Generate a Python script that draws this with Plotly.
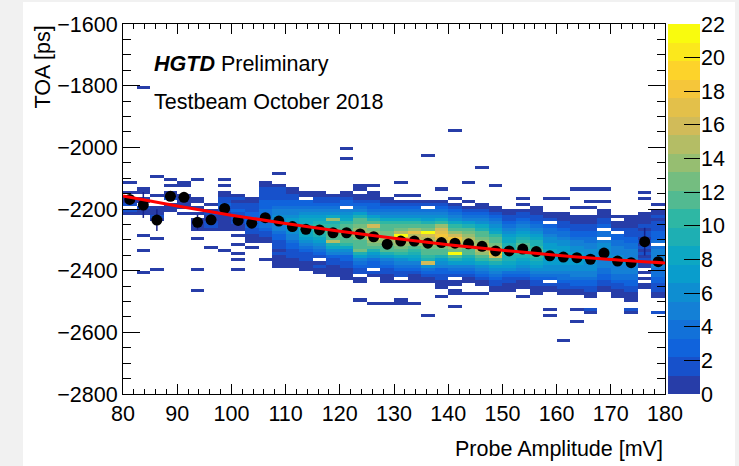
import numpy as np
import plotly.graph_objects as go

FONT = "Liberation Sans, Arial, sans-serif"

# Histogram binning: probe amplitude (mV) and time of arrival (ps)
AMP_LO, AMP_HI, AMP_STEP = 80.0, 180.0, 2.5
TOA_LO, TOA_HI, TOA_STEP = -2800.0, -1600.0, 10.0

# Entries per amplitude bin. One character per 10 ps TOA bin, the first one
# being bin 48 counted downwards from -1600 ps (i.e. -2080..-2090 ps).
# Digits 0-9, then a=10 ... m=22. Spaces are only for readability.
COUNT_START = 48
COUNTS = [
    "00010 01011 20210",
    "00000 11011 02110 00000 10000 10000 00100",
    "01000 00100 01112 10000 01000 00000 01000",
    "00101 01120 11100",
    "00011 00111 11010",
    "00100 00011 01010 11110 01000 00000 01000 00010",
    "00000 00000 10121 12210 00001",
    "00101 01122 32211 11110 00000 10000",
    "00000 00121 22322 22110 10010 01010 01000",
    "00000 00011 22233 33322 11101",
    "00011 22223 33444 54432 21100 00010",
    "10001 22223 34556 65554 33222 12111 10000",
    "00000 11223 34556 77766 55433 22211 10000",
    "00000 01103 34567 88998 87654 32221 11000",
    "00000 01122 34567 89aaa 98765 43201 21100",
    "00000 00122 34568 e9abc cbf98 65322 11110",
    "00000 01123 30567 8abcd dcba8 65332 21111",
    "00001 10112 34579 bcdee edcbc d9754 32201 10000 01000",
    "00001 01112 33457 9cgde fhedb 97643 30210 00000 00100",
    "00000 00011 23456 8abcd deedc b9754 32211 10000 00100",
    "00010 00101 23456 8acdf lgfed ca865 43220 10000 01100",
    "00000 00101 23456 8aceh fgeec a9875 43211 10000 00100",
    "00000 00001 20456 79bdm gfeed cba9g 64321 10000 00000 010",
    "00000 10001 23456 8aegh ihfdd cb976 53322 11100 10000",
    "00000 00010 12345 68ace gihfe dlc97 54320 11011 00010",
    "00010 00001 01234 579bd effed cb987 54321 10001",
    "00000 00000 11234 5689b cdefg feca8 65432 11001",
    "00001 00000 01123 45678 abcde hjgc9 76543 22110",
    "00000 00000 00112 23456 78899 aa998 76432 21110",
    "00000 00010 10122 34567 89abb aa987 65432 11100 10000",
    "00000 00000 01112 23456 7899a bca98 76543 22111",
    "00000 00010 00011 20344 56677 88877 66543 02110 00001 010",
    "00000 00010 00011 12234 45667 78877 66544 32211",
    "00000 10000 01001 11223 34556 67777 66554 33211 00001",
    "00000 10001 01001 11223 34455 66676 66554 33221 10002 100",
    "00000 10001 00111 22304 40566 66655 54433 22110",
    "00000 00000 00001 01120 33445 55666 55544 32211 10000",
    "00000 00000 00001 11122 23344 55566 55544 33221 11002 100",
    "00000 01010 00011 11212 21212 12121 10101 01100",
    "00000 00000 10112 12223 33404 55555 54443 32221 10000 200",
]

# Isolated entries outside the listed range: (amplitude bin, TOA bin, entries)
OUTLIERS = [
    (1, 20, 1), (24, 34, 1), (16, 40, 1), (16, 43, 1), (22, 42, 1),
    (26, 46, 1), (33, 96, 1), (32, 102, 1),
]

# Profile: mean TOA per amplitude bin and its uncertainty (ps)
PROFILE_TOA = [
    -2169, -2187, -2236, -2159, -2162, -2243, -2235, -2198, -2237, -2246,
    -2228, -2239, -2257, -2266, -2268, -2277, -2277, -2281, -2290, -2314,
    -2304, -2304, -2311, -2309, -2311, -2313, -2321, -2336, -2336, -2330,
    -2338, -2352, -2356, -2358, -2363, -2343, -2369, -2374, -2306, -2371,
]
PROFILE_ERR = [
    15, 42, 35, 12, 12, 24, 14, 12, 12, 10,
    8, 7, 6, 5, 5, 5, 5, 5, 5, 5,
    5, 5, 5, 5, 5, 5, 5, 5, 5, 5,
    6, 6, 6, 6, 6, 8, 8, 8, 45, 10,
]

# Time-walk fit evaluated along the amplitude range
FIT_AMP = [80, 90, 100, 110, 120, 130, 140, 150, 160, 170, 180]
FIT_TOA = [-2158, -2190, -2220, -2247, -2272, -2295, -2316, -2334, -2350, -2364, -2375]

# Colour axis
Z_MAX = 22
N_LEVELS = 20
N_PALETTE = 255
Z_TICKS = list(range(0, Z_MAX + 1, 2))

# ---------------------------------------------------------------------------
amp_edges = np.arange(AMP_LO, AMP_HI + AMP_STEP / 2, AMP_STEP)
toa_edges = np.arange(TOA_LO, TOA_HI + TOA_STEP / 2, TOA_STEP)
n_amp = len(amp_edges) - 1
n_toa = len(toa_edges) - 1
amp_centers = 0.5 * (amp_edges[:-1] + amp_edges[1:])

z = np.zeros((n_toa, n_amp))


def fill(col, k, n):
    # k counts bins downwards from the top of the TOA range
    z[n_toa - 1 - k, col] += n


for col, s in enumerate(COUNTS):
    for i, ch in enumerate(s.replace(" ", "")):
        n = int(ch, 36)
        if n:
            fill(col, COUNT_START + i, n)
for col, k, n in OUTLIERS:
    fill(col, k, n)
z[z == 0] = np.nan

# ROOT kBird palette; each contour level picks one of the 255 palette colours
bird_stops = [0.0, 0.125, 0.25, 0.375, 0.5, 0.625, 0.75, 0.875, 1.0]
bird_r = [0.2082, 0.0592, 0.0780, 0.0232, 0.1802, 0.5301, 0.8186, 0.9956, 0.9764]
bird_g = [0.1664, 0.3599, 0.5041, 0.6419, 0.7178, 0.7492, 0.7328, 0.7862, 0.9832]
bird_b = [0.5293, 0.8684, 0.8385, 0.7914, 0.6425, 0.4662, 0.3499, 0.1968, 0.0539]


def bird(t):
    r = np.interp(t, bird_stops, bird_r)
    g = np.interp(t, bird_stops, bird_g)
    b = np.interp(t, bird_stops, bird_b)
    return "rgb(%d,%d,%d)" % (round(r * 255), round(g * 255), round(b * 255))


colorscale = []
for i in range(N_LEVELS):
    idx = min(int((i + 0.99) * N_PALETTE / N_LEVELS), N_PALETTE - 1)
    c = bird(idx / (N_PALETTE - 1))
    colorscale.append([i / N_LEVELS, c])
    colorscale.append([(i + 1) / N_LEVELS, c])

# Figure geometry (pixels)
W, H = 739, 466
L, T, B = 123, 24, 72
PLOT_RIGHT = 665          # right edge of the frame
BAR_LEFT, BAR_RIGHT = 668, 700
full_w = W - L            # margin r = 0, domains are set explicitly
ph = H - T - B


def dom_x(x):
    return (x - L) / full_w


def px_y(y):
    return (H - B - y) / ph


fig = go.Figure()

fig.add_trace(go.Heatmap(
    x=amp_edges, y=toa_edges, z=z,
    zmin=0, zmax=Z_MAX, colorscale=colorscale,
    hoverongaps=False, showscale=False,
))

fig.add_trace(go.Scatter(
    x=amp_centers, y=PROFILE_TOA, mode="markers",
    marker=dict(color="black", size=11),
    error_y=dict(type="data", array=PROFILE_ERR, color="#16218a",
                 thickness=1.5, width=0),
    showlegend=False,
))

fig.add_trace(go.Scatter(
    x=FIT_AMP, y=FIT_TOA, mode="lines",
    line=dict(color="#ff0000", width=3, shape="spline"),
    showlegend=False,
))

# Palette axis drawn as its own column of contour levels
level_edges = np.linspace(0, Z_MAX, N_LEVELS + 1)
level_mid = 0.5 * (level_edges[:-1] + level_edges[1:])
fig.add_trace(go.Heatmap(
    x=[0, 1], y=level_edges, z=[[v] for v in level_mid],
    zmin=0, zmax=Z_MAX, colorscale=colorscale, showscale=False,
    xaxis="x2", yaxis="y2", hoverinfo="skip",
))

tick_font = dict(family=FONT, size=21.5, color="black")
axis_common = dict(
    showgrid=False, zeroline=False, showline=True, linecolor="black",
    linewidth=1, mirror="ticks", ticks="inside", tickcolor="black",
    tickwidth=1, tickfont=tick_font, automargin=False,
)

fig.update_layout(
    xaxis=dict(
        domain=[0, dom_x(PLOT_RIGHT)],
        range=[AMP_LO, AMP_HI], tickvals=list(range(80, 181, 10)), ticklen=10,
        minor=dict(dtick=2, ticks="inside", ticklen=5, tickcolor="black"),
        **axis_common,
    ),
    yaxis=dict(
        range=[TOA_LO, TOA_HI], tickvals=list(range(-2800, -1599, 200)), ticklen=17,
        minor=dict(dtick=50, ticks="inside", ticklen=8, tickcolor="black"),
        **axis_common,
    ),
    xaxis2=dict(domain=[dom_x(BAR_LEFT), dom_x(BAR_RIGHT)], range=[0, 1],
                visible=False, anchor="y2", fixedrange=True, automargin=False),
    yaxis2=dict(domain=[0, 1], range=[0, Z_MAX], anchor="x2", side="right",
                tickvals=Z_TICKS, ticks="inside", ticklen=16, tickcolor="black",
                tickwidth=1, tickfont=tick_font, showgrid=False, zeroline=False,
                showline=False, fixedrange=True, automargin=False),
)

fig.add_shape(type="rect", xref="paper", yref="paper",
              x0=dom_x(23), x1=dom_x(735), y0=px_y(466), y1=px_y(2),
              fillcolor="white", line=dict(width=0), layer="below")

text_font = dict(family=FONT, size=21.5, color="black")
fig.add_annotation(text="<b><i>HGTD</i></b> Preliminary", xref="paper", yref="paper",
                   x=dom_x(152), y=px_y(64), xanchor="left", yanchor="middle",
                   showarrow=False, font=text_font)
fig.add_annotation(text="Testbeam October 2018", xref="paper", yref="paper",
                   x=dom_x(152), y=px_y(102), xanchor="left", yanchor="middle",
                   showarrow=False, font=text_font)
fig.add_annotation(text="TOA [ps]", xref="paper", yref="paper",
                   x=dom_x(42), y=1.0, xanchor="center", yanchor="top", textangle=-90,
                   showarrow=False, font=text_font)
fig.add_annotation(text="Probe Amplitude [mV]", xref="paper", yref="paper",
                   x=dom_x(PLOT_RIGHT), y=px_y(449), xanchor="right", yanchor="middle",
                   showarrow=False, font=text_font)

fig.update_layout(
    width=W, height=H,
    margin=dict(l=L, r=0, t=T, b=B, pad=0, autoexpand=False),
    paper_bgcolor="#f1f1f1", plot_bgcolor="white",
    showlegend=False,
)

fig.write_html("out.html")
